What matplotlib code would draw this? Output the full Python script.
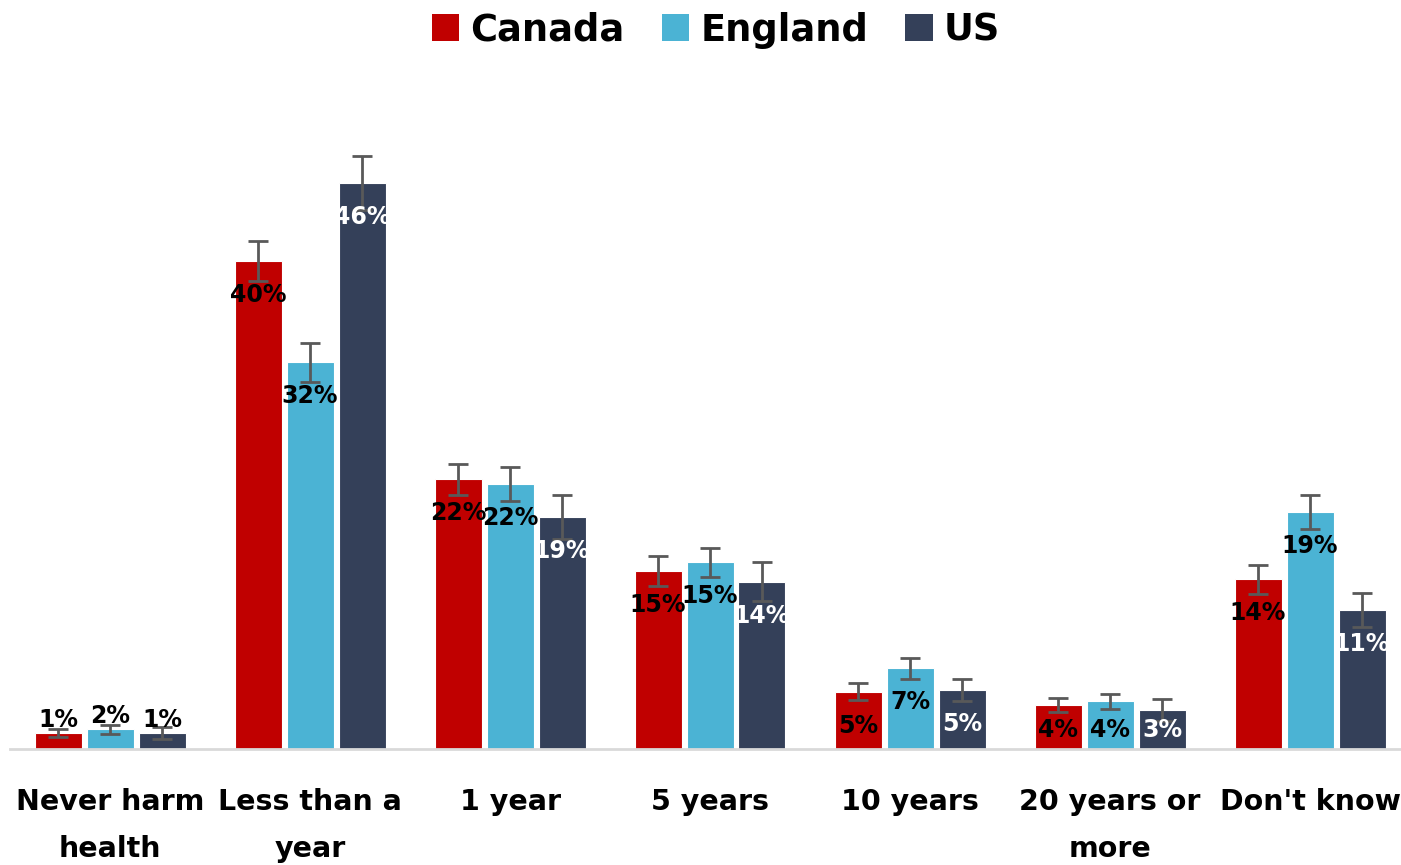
import matplotlib.pyplot as plt
import numpy as np
from matplotlib.patches import Patch

# Data
categories = ["Never harm\nhealth", "Less than a\nyear", "1 year", "5 years",
              "10 years", "20 years or\nmore", "Don't know"]
series = ["Canada", "England", "US"]
canada = [1.3, 40.0, 22.1, 14.6, 4.7, 3.6, 13.9]
england = [1.6, 31.7, 21.7, 15.3, 6.6, 3.9, 19.4]
us = [1.3, 46.4, 19.0, 13.7, 4.8, 3.2, 11.4]
canada_err = [0.3, 1.6, 1.3, 1.2, 0.7, 0.6, 1.2]
england_err = [0.4, 1.6, 1.4, 1.2, 0.85, 0.6, 1.4]
us_err = [0.5, 2.2, 1.8, 1.6, 0.9, 0.9, 1.4]

colors = ["#C00000", "#4BB3D4", "#344059"]
label_colors = ["black", "black", "white"]

plt.rcParams['font.family'] = ['DejaVu Sans']

fig = plt.figure(figsize=(14.01, 8.65), dpi=100)
ax = fig.add_axes([10 / 1401, 116 / 865, 1390 / 1401, 610 / 865])

x = np.arange(len(categories))
width = 0.235
step = 0.26
values = [canada, england, us]
errors = [canada_err, england_err, us_err]

px_per_unit = 610 / 50  # pixels per percentage point

for i, (vals, errs) in enumerate(zip(values, errors)):
    pos = x + (i - 1) * step
    ax.bar(pos, vals, width, color=colors[i], edgecolor='white', linewidth=0.8,
           zorder=2)
    ax.errorbar(pos, vals, yerr=errs, fmt='none', ecolor='#595959',
                elinewidth=2, capsize=7, capthick=2, zorder=3)
    for p, v in zip(pos, vals):
        txt = f"{int(v + 0.5)}%"
        if v < 2:
            y = v + 13 / px_per_unit
            c = 'black'
        else:
            y = max(v - 34 / px_per_unit, 19 / px_per_unit)
            c = label_colors[i]
        ax.text(p, y, txt, ha='center', va='center', fontsize=17,
                fontweight='bold', color=c, zorder=4)

ax.set_xlim(-0.5, 6.45)
ax.set_ylim(0, 50)
ax.set_yticks([])
ax.set_xticks(x)
ax.set_xticklabels(categories, fontsize=20.5, fontweight='bold',
                   linespacing=1.88)
ax.tick_params(axis='x', length=0, pad=28)
for s in ['top', 'right', 'left']:
    ax.spines[s].set_visible(False)
ax.spines['bottom'].set_color('#D9D9D9')
ax.spines['bottom'].set_linewidth(2)

handles = [Patch(facecolor=c, edgecolor='none') for c in colors]
fig.legend(handles, series, loc='upper center', bbox_to_anchor=(0.511, 1.025),
           ncol=3, frameon=False, prop={'size': 26.5, 'weight': 'bold'},
           handlelength=0.75, handleheight=0.75, handletextpad=0.3,
           columnspacing=1.0)

fig.savefig("out.png", dpi=100)
